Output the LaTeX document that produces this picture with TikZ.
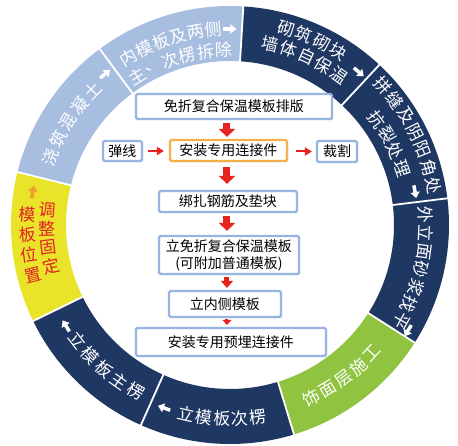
\documentclass[tikz,border=0pt]{standalone}
\usepackage{fontspec}
\newfontfamily\cjk{Noto Sans CJK SC}
\usetikzlibrary{arrows.meta,calc,shadows}
\definecolor{lblue}{RGB}{168,190,224}
\definecolor{navy}{RGB}{31,55,99}
\definecolor{yel}{RGB}{233,228,42}
\definecolor{grn}{RGB}{143,195,64}
\definecolor{redtxt}{RGB}{228,32,40}
\definecolor{orng}{RGB}{240,160,50}
\definecolor{boxblue}{RGB}{150,182,225}
\definecolor{boxorange}{RGB}{245,175,75}
\definecolor{arrred}{RGB}{230,35,30}
\def\Rout{219}
\def\Rin{164}
\newcommand\ringseg[3]{%
  \fill[#3] (#1:\Rout) arc[start angle=#1, end angle=#2, radius=\Rout]
    -- (#2:\Rin) arc[start angle=#2, end angle=#1, radius=\Rin] -- cycle;}
% clockwise text, glyph tops outward
\newcommand\ringCW[6]{%
  \pgfmathsetmacro\dA{#4/#3*180/pi}%
  \foreach \ch [count=\k from 0] in {#6}{%
    \pgfmathsetmacro\aA{#2+(#5-1)/2*\dA-\k*\dA}%
    \node[ringtxt, rotate=\aA-90] (#1\k) at (\aA:#3) {\ch};
  }}
% counter-clockwise text, glyph tops inward
\newcommand\ringCCW[6]{%
  \pgfmathsetmacro\dA{#4/#3*180/pi}%
  \foreach \ch [count=\k from 0] in {#6}{%
    \pgfmathsetmacro\aA{#2-(#5-1)/2*\dA+\k*\dA}%
    \node[ringtxt, rotate=\aA+90] (#1\k) at (\aA:#3) {\ch};
  }}
\newcommand\ringarrow[4]{%
  \coordinate (#4) at (#1:#2);
  \draw[ringarr, #3] ($(#4)+(#1+90:6.5)$) -- ($(#4)+(#1-90:6.5)$);}
\tikzset{
  ringtxt/.style={text=white, inner sep=0pt, font=\cjk\fontsize{17}{17}\selectfont},
  yeltxt/.style={text=redtxt, inner sep=0pt, font=\cjk\fontsize{17}{17}\selectfont},
  ringarr/.style={line width=3.5pt, -{Triangle[width=9pt,length=6pt]}},
  sep/.style={draw=white, line width=1.8pt},
  box/.style={draw=boxblue, line width=2.2pt, fill=white, rounded corners=1.5pt,
    inner sep=0pt, align=center, font=\cjk\fontsize{14}{17}\selectfont,
    drop shadow={shadow xshift=1.2pt, shadow yshift=-1.2pt, fill=black!40, opacity=0.35}},
  obox/.style={box, draw=boxorange},
  downarr/.style={draw=arrred, line width=7pt, -{Triangle[width=16pt,length=8pt]}},
  sidearr/.style={draw=arrred, line width=2pt, -{Triangle[width=8pt,length=7pt]}},
}
\begin{document}
\begin{tikzpicture}[x=1pt,y=1pt]
\useasboundingbox (-230,-221) rectangle (228,225);
\fill[white] (-230,-221) rectangle (228,225);
% ring segments
\ringseg{86.5}{126.5}{lblue}
\ringseg{126.5}{166}{lblue}
\ringseg{166}{206}{yel}
\ringseg{206}{246}{navy}
\ringseg{246}{287}{navy}
\ringseg{287}{327.5}{grn}
\ringseg{-32.5}{7}{navy}
\ringseg{7}{47}{navy}
\ringseg{47}{86.5}{navy}
\foreach \a in {86.5,126.5,166,206,246,287,327.5,7,47}
  \draw[sep] (\a:\Rin-1) -- (\a:\Rout+1);
% ring texts
\ringCW{a1}{108}{196}{18}{6}{内,模,板,及,两,侧}
\ringCW{a2}{107}{175}{18.3}{6}{主,、,次,楞,拆,除}
\ringarrow{90}{196}{white}{aa}
\ringCW{b}{147.5}{192}{20}{5}{浇,筑,混,凝,土}
\ringarrow{129.6}{196}{white}{ba}
\foreach \ch [count=\k from 0] in {调,整,固,定}{%
  \pgfmathsetmacro\aA{175.3+\k*5.93}%
  \node[yeltxt, rotate=\aA-180] (c1\k) at (\aA:183.5) {\ch};}
\foreach \ch [count=\k from 0] in {模,板,位,置}{%
  \pgfmathsetmacro\aA{176.9+\k*5.77}%
  \node[yeltxt, rotate=\aA-180] (c2\k) at (\aA:203) {\ch};}
\ringarrow{170.5}{200}{orng}{ca}
\ringCCW{d}{228.85}{191}{19.4}{5}{立,模,板,主,楞}
\ringarrow{211.6}{192.6}{white}{da}
\ringCCW{e}{267.6}{194}{18}{5}{立,模,板,次,楞}
\ringarrow{250.2}{194.5}{white}{ea}
\ringCCW{f}{306.5}{191}{18.9}{5}{饰,面,层,施,工}
\ringCW{g}{-13.15}{196}{18.3}{7}{外,立,面,砂,浆,找,平}
\ringarrow{-30.7}{207}{white}{ga}
\ringCW{h1}{26.65}{207}{19}{7}{拼,缝,及,阴,阳,角,处}
\ringCW{h2}{27}{181}{18.4}{4}{抗,裂,处,理}
\ringarrow{10.2}{188}{white}{ha}
\ringCW{i1}{66}{204}{19}{4}{砌,筑,砌,块}
\ringCW{i2}{65.6}{185}{19}{5}{墙,体,自,保,温}
\ringarrow{49.9}{200}{white}{ia}
% inner flow chart
\node[box, minimum width=196, minimum height=25] (b1) at (4,118.5) {免折复合保温模板排版};
\node[box, minimum width=39, minimum height=20] (b2) at (-107.5,74) {弹线};
\node[obox, minimum width=117, minimum height=21] (b3) at (-1.5,74.5) {安装专用连接件};
\node[box, minimum width=40, minimum height=21] (b4) at (107,73.5) {裁割};
\node[box, minimum width=138, minimum height=21] (b5) at (-2,23.5) {绑扎钢筋及垫块};
\node[box, minimum width=140, minimum height=38] (b6) at (-1,-30) {立免折复合保温模板\\(可附加普通模板)};
\node[box, minimum width=112, minimum height=26] (b7) at (-5,-79) {立内侧模板};
\node[box, minimum width=190, minimum height=28] (b8) at (1,-117) {安装专用预埋连接件};
\coordinate (ax) at (-3,0);
\draw[downarr, shorten <=3pt, shorten >=2pt] (b1.south -| ax) -- (b3.north -| ax);
\draw[downarr, shorten <=5pt, shorten >=6pt] (b3.south -| ax) -- (b5.north -| ax);
\draw[downarr, shorten <=3pt, shorten >=4pt] (b5.south -| ax) -- (b6.north -| ax);
\draw[downarr, line width=5pt, -{Triangle[width=12pt,length=7pt]}, shorten <=2pt, shorten >=2pt] (b6.south -| ax) -- (b7.north -| ax);
\draw[downarr, line width=3pt, -{Triangle[width=9pt,length=5pt]}, shorten <=1pt, shorten >=2pt] (b7.south -| ax) -- (b8.north -| ax);
\draw[sidearr, shorten <=5pt, shorten >=5pt] (b2.east) -- (b3.west |- b2.east);
\draw[sidearr, shorten <=8pt, shorten >=4pt] (b3.east |- b4.west) -- (b4.west);
\end{tikzpicture}
\end{document}
